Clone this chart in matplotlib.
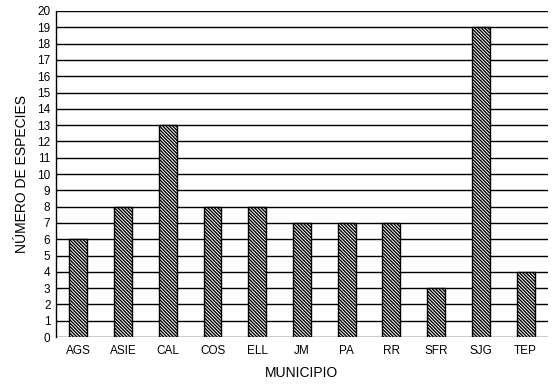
import matplotlib
matplotlib.use("Agg")
import matplotlib.pyplot as plt

plt.rcParams['font.family'] = ['Liberation Sans', 'DejaVu Sans']
plt.rcParams['hatch.linewidth'] = 1.0

# ---------------------------
# DATA
# ---------------------------
municipios = ["AGS", "ASIE", "CAL", "COS", "ELL", "JM", "PA", "RR", "SFR", "SJG", "TEP"]
especies = [6, 8, 13, 8, 8, 7, 7, 7, 3, 19, 4]
y_ticks = list(range(0, 21))

fig = plt.figure(figsize=(5.58, 3.87), dpi=100)
ax = fig.add_axes([0.1004, 0.129, 0.8816, 0.8426])

# gridlines behind bars
for y in y_ticks:
    ax.axhline(y, color="black", linewidth=1.0, zorder=1)

ax.bar(range(len(municipios)), especies, width=0.4,
       color="white", edgecolor="black", hatch="\\" * 10,
       linewidth=1.0, zorder=2)

ax.set_xlim(-0.5, len(municipios) - 0.5)
ax.set_ylim(0, 20)
ax.set_yticks(y_ticks)
ax.set_xticks(range(len(municipios)))
ax.set_xticklabels(municipios)
ax.tick_params(axis="both", length=0, labelsize=8.5)
ax.tick_params(axis="y", pad=4)
ax.tick_params(axis="x", pad=6)

for side in ["top", "right", "bottom"]:
    ax.spines[side].set_visible(False)
ax.spines["left"].set_linewidth(1.0)

ax.set_ylabel("NÚMERO DE ESPECIES", fontsize=10, labelpad=6)
ax.set_xlabel("MUNICIPIO", fontsize=10, labelpad=6)

fig.savefig("out.png", dpi=100)
